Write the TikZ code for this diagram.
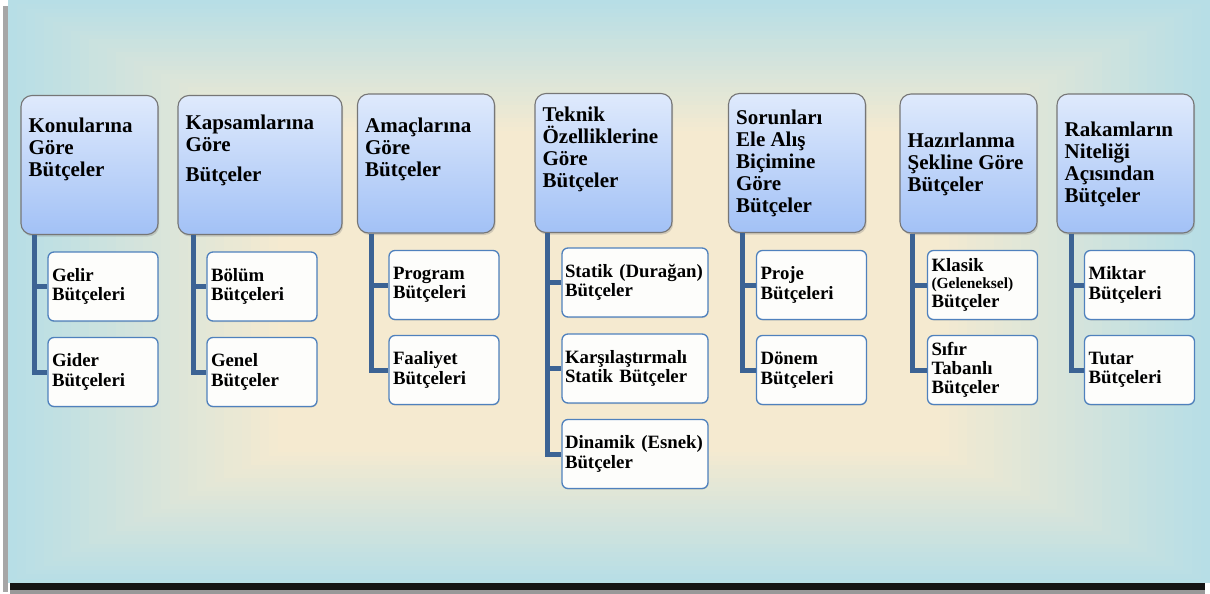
\documentclass[tikz,border=0pt]{standalone}
\usepackage{fontspec}
\setmainfont{Liberation Serif}
\usepackage{tikz}
\usetikzlibrary{positioning,shadows,calc}

\definecolor{krem}{RGB}{245,234,208}
\definecolor{mavi}{RGB}{183,222,230}
\definecolor{anaust}{RGB}{223,234,252}
\definecolor{anaalt}{RGB}{162,193,246}
\definecolor{anacizgi}{RGB}{118,118,118}
\definecolor{altcizgi}{RGB}{79,129,189}
\definecolor{altdolgu}{RGB}{253,253,251}
\definecolor{bagrenk}{RGB}{60,99,148}

\tikzset{
  ana/.style={draw=anacizgi, line width=1.1pt, rounded corners=11pt,
    top color=anaust, bottom color=anaalt,
    minimum width=137pt, minimum height=139pt,
    drop shadow={shadow xshift=1.2pt, shadow yshift=-2pt, opacity=0.3}},
  anayazi/.style={align=left, inner sep=0pt,
    font=\fontsize{21}{22}\selectfont\bfseries},
  alt/.style={draw=altcizgi, line width=1.3pt, rounded corners=6pt, fill=altdolgu,
    minimum width=110pt, minimum height=69pt, text width=102pt, inner xsep=4pt,
    align=left, font=\fontsize{18.8}{19.3}\selectfont\bfseries,
    drop shadow={shadow xshift=0.4pt, shadow yshift=-1pt, opacity=0.25}},
  genis/.style={alt, minimum width=146pt, text width=140pt, inner xsep=3pt},
  bag/.style={draw=bagrenk, line width=5pt}
}

\begin{document}
\begin{tikzpicture}[x=1pt, y=-1pt]
  \useasboundingbox (0,0) rectangle (1210,594);
  % frame shadow
  \fill[black!35] (3,6) rectangle (8,592);
  \fill[black!92] (10,583) rectangle (1205,590);
  \fill[black!40] (10,590) rectangle (1205,594);
  % background
  \foreach \i in {0,...,30} {
    \pgfmathtruncatemacro{\p}{\i*100/30}
    \fill[krem!\p!mavi] (8+9*\i, 4.37*\i) rectangle (1210-9*\i, 583-4.37*\i);
  }

  % main boxes
  \node[ana] (k1) at (89.5,165) {};
  \node[ana, minimum width=164pt] (k2) at (260,165) {};
  \node[ana] (k3) at (426,163.5) {};
  \node[ana] (k4) at (603.5,163) {};
  \node[ana] (k5) at (797,163) {};
  \node[ana] (k6) at (968.5,163.5) {};
  \node[ana] (k7) at (1125.5,163.5) {};

  \node[anayazi, below right=22.7pt and 8pt of k1.north west] (k1y) {Konularına\\Göre\\Bütçeler};
  \node[anayazi, below right=19.7pt and 8pt of k2.north west] (k2y) {Kapsamlarına\\Göre\\[8pt]Bütçeler};
  \node[anayazi, below right=24.7pt and 8pt of k3.north west] (k3y) {Amaçlarına\\Göre\\Bütçeler};
  \node[anayazi, below right=13.7pt and 8pt of k4.north west] (k4y) {Teknik\\Özelliklerine\\Göre\\Bütçeler};
  \node[anayazi, below right=16.7pt and 8pt of k5.north west] (k5y) {Sorunları\\Ele Alış\\Biçimine\\Göre\\Bütçeler};
  \node[anayazi, below right=39.7pt and 8pt of k6.north west] (k6y) {Hazırlanma\\Şekline Göre\\Bütçeler};
  \node[anayazi, below right=28.7pt and 8pt of k7.north west] (k7y) {Rakamların\\Niteliği\\Açısından\\Bütçeler};

  % sub boxes
  \node[alt] (k1a) at (103,286.5) {Gelir\\Bütçeleri};
  \node[alt] (k1b) at (103,372) {Gider\\Bütçeleri};
  \node[alt] (k2a) at (262,286.5) {Bölüm\\Bütçeleri};
  \node[alt] (k2b) at (262,372) {Genel\\Bütçeler};
  \node[alt] (k3a) at (444,285) {Program\\Bütçeleri};
  \node[alt] (k3b) at (444,370) {Faaliyet\\Bütçeleri};
  \node[genis] (k4a) at (635,282.5) {Statik (Durağan)\\Bütçeler};
  \node[genis] (k4b) at (635,368.5) {Karşılaştırmalı\\Statik Bütçeler};
  \node[genis] (k4c) at (635,454) {Dinamik (Esnek)\\Bütçeler};
  \node[alt] (k5a) at (811.5,285) {Proje\\Bütçeleri};
  \node[alt] (k5b) at (811.5,370) {Dönem\\Bütçeleri};
  \node[alt] (k6a) at (982.5,285) {Klasik\\[-2pt]{\fontsize{15.5}{15.5}\selectfont(Geleneksel)}\\Bütçeler};
  \node[alt] (k6b) at (982.5,370) {Sıfır\\Tabanlı\\Bütçeler};
  \node[alt] (k7a) at (1139.5,285) {Miktar\\Bütçeleri};
  \node[alt] (k7b) at (1139.5,370) {Tutar\\Bütçeleri};

  % connectors
  \draw[bag] ([xshift=14pt]k1.south west) |- (k1a.west);
  \draw[bag] ([xshift=14pt]k1.south west) |- (k1b.west);
  \draw[bag] ([xshift=16pt]k2.south west) |- (k2a.west);
  \draw[bag] ([xshift=16pt]k2.south west) |- (k2b.west);
  \draw[bag] ([xshift=15pt]k3.south west) |- (k3a.west);
  \draw[bag] ([xshift=15pt]k3.south west) |- (k3b.west);
  \draw[bag] ([xshift=13pt]k4.south west) |- (k4a.west);
  \draw[bag] ([xshift=13pt]k4.south west) |- (k4b.west);
  \draw[bag] ([xshift=13pt]k4.south west) |- (k4c.west);
  \draw[bag] ([xshift=15pt]k5.south west) |- (k5a.west);
  \draw[bag] ([xshift=15pt]k5.south west) |- (k5b.west);
  \draw[bag] ([xshift=13pt]k6.south west) |- (k6a.west);
  \draw[bag] ([xshift=13pt]k6.south west) |- (k6b.west);
  \draw[bag] ([xshift=15pt]k7.south west) |- (k7a.west);
  \draw[bag] ([xshift=15pt]k7.south west) |- (k7b.west);
\end{tikzpicture}
\end{document}
